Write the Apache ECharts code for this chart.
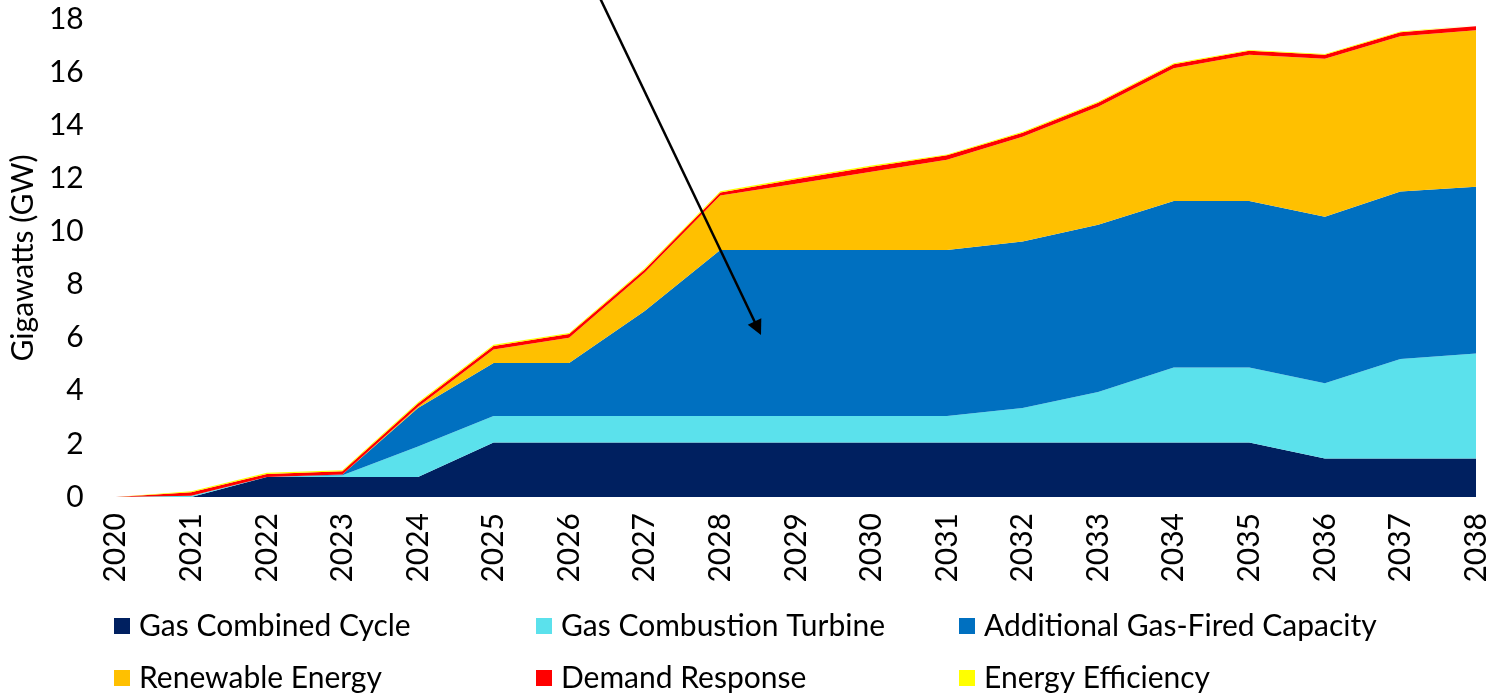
<!DOCTYPE html>
<html>
<head>
<meta charset="utf-8">
<script src="https://cdn.jsdelivr.net/npm/echarts@6/dist/echarts.min.js"></script>
<style>
html,body{margin:0;padding:0;background:#fff;}
#chart{width:1491px;height:698px;}
</style>
</head>
<body>
<div id="chart"></div>
<script>
const years = ['2020','2021','2022','2023','2024','2025','2026','2027','2028','2029','2030','2031','2032','2033','2034','2035','2036','2037','2038'];
const gasCombinedCycle   = [0, 0, 0.75, 0.75, 0.75, 2.05, 2.05, 2.05, 2.05, 2.05, 2.05, 2.05, 2.05, 2.05, 2.05, 2.05, 1.45, 1.45, 1.45];
const gasCombustionTurb  = [0, 0.05, 0, 0.07, 1.15, 1.0, 1.0, 1.0, 1.0, 1.0, 1.0, 1.0, 1.3, 1.9, 2.83, 2.83, 2.83, 3.75, 3.95];
const additionalGasFired = [0, 0, 0, 0.03, 1.45, 2.0, 2.0, 3.95, 6.25, 6.25, 6.25, 6.25, 6.27, 6.3, 6.27, 6.27, 6.27, 6.3, 6.28];
const renewableEnergy    = [0, 0, 0, 0, 0.05, 0.5, 0.95, 1.45, 2.05, 2.5, 2.95, 3.4, 3.95, 4.45, 5.0, 5.5, 5.95, 5.85, 5.9];
const demandResponse     = [0, 0.13, 0.12, 0.12, 0.12, 0.14, 0.14, 0.12, 0.12, 0.17, 0.19, 0.17, 0.15, 0.15, 0.15, 0.15, 0.15, 0.15, 0.15];
const energyEfficiency   = [0, 0.04, 0.04, 0.04, 0.05, 0.04, 0.04, 0.04, 0.04, 0.04, 0.04, 0.03, 0.03, 0.03, 0.03, 0.03, 0.03, 0.03, 0.03];
const yTicks = [0, 2, 4, 6, 8, 10, 12, 14, 16, 18];

const FONT = 'Lato';
const seriesDefs = [
  {name:'Gas Combined Cycle', data:gasCombinedCycle, color:'#002060'},
  {name:'Gas Combustion Turbine', data:gasCombustionTurb, color:'#5BE1EC'},
  {name:'Additional Gas-Fired Capacity', data:additionalGasFired, color:'#0070C0'},
  {name:'Renewable Energy', data:renewableEnergy, color:'#FFC000'},
  {name:'Demand Response', data:demandResponse, color:'#FF0000'},
  {name:'Energy Efficiency', data:energyEfficiency, color:'#FFFF00'}
];

const legendPos = [
  {left:114, top:611}, {left:536, top:611}, {left:959, top:611},
  {left:114, top:663}, {left:536, top:663}, {left:959, top:663}
];

const chart = echarts.init(document.getElementById('chart'), null, {renderer:'canvas'});

// arrow annotation
const tip = [761, 335];
const start = [599, -4];
const dx = tip[0]-start[0], dy = tip[1]-start[1];
const len = Math.sqrt(dx*dx+dy*dy);
const ux = dx/len, uy = dy/len;
const headLen = 15, headHalf = 7.5;
const base = [tip[0]-ux*headLen, tip[1]-uy*headLen];

const option = {
  backgroundColor:'#fff',
  animation:false,
  grid:{left:108, right:13, top:19, bottom:201},
  legend: seriesDefs.map((s,i)=>({
    data:[s.name],
    left:legendPos[i].left, top:legendPos[i].top,
    padding:0,
    itemWidth:16, itemHeight:16,
    icon:'rect',
    selectedMode:false,
    textStyle:{fontFamily:FONT, fontSize:30, color:'#000', padding:[0,0,0,4]}
  })),
  xAxis:{
    type:'category', data:years, boundaryGap:false,
    axisLine:{show:false}, axisTick:{show:false},
    axisLabel:{rotate:90, fontFamily:FONT, fontSize:30, color:'#000', margin:16, interval:0}
  },
  yAxis:{
    type:'value', min:0, max:18, interval:2,
    name:'Gigawatts (GW)', nameLocation:'middle', nameGap:72, nameRotate:90,
    nameTextStyle:{fontFamily:FONT, fontSize:30, color:'#000'},
    axisLine:{show:false}, axisTick:{show:false}, splitLine:{show:false},
    axisLabel:{fontFamily:FONT, fontSize:30, color:'#000', margin:32,
      formatter:v=> yTicks.includes(v) ? String(v) : ''}
  },
  series: seriesDefs.map(s=>({
    name:s.name, type:'line', stack:'total', data:s.data,
    showSymbol:false, symbol:'none',
    lineStyle:{width:0}, itemStyle:{color:s.color},
    areaStyle:{color:s.color, opacity:1}
  })),
  graphic:[
    {type:'line', shape:{x1:start[0], y1:start[1], x2:base[0]+ux*2, y2:base[1]+uy*2},
     style:{stroke:'#000', lineWidth:2.5}, z:100},
    {type:'polygon', shape:{points:[tip,
       [base[0]-uy*headHalf, base[1]+ux*headHalf],
       [base[0]+uy*headHalf, base[1]-ux*headHalf]]},
     style:{fill:'#000'}, z:100}
  ]
};
chart.setOption(option);
</script>
</body>
</html>
